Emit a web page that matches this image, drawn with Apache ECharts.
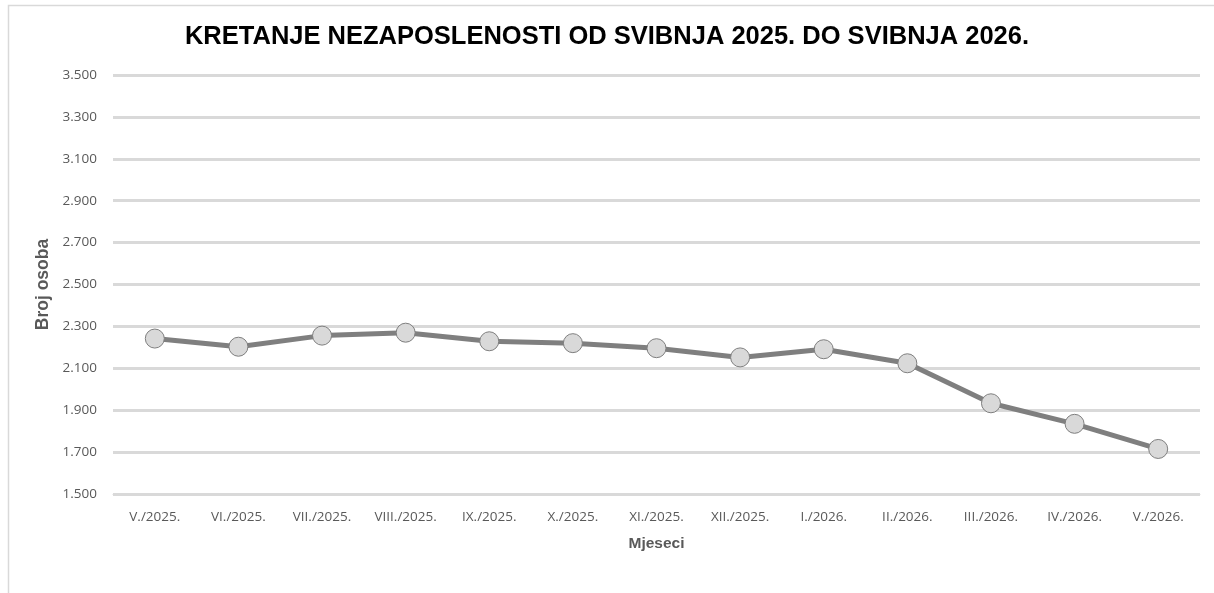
<!DOCTYPE html>
<html>
<head>
<meta charset="utf-8">
<script src="https://cdn.jsdelivr.net/npm/echarts@6/dist/echarts.min.js"></script>
<style>
html,body{margin:0;padding:0;background:#fff;}
#c{width:1214px;height:593px;}
</style>
</head>
<body>
<div id="c"></div>
<script>
const titleText = 'KRETANJE NEZAPOSLENOSTI OD SVIBNJA 2025. DO SVIBNJA 2026.';
const categories = ['V./2025.','VI./2025.','VII./2025.','VIII./2025.','IX./2025.','X./2025.','XI./2025.','XII./2025.','I./2026.','II./2026.','III./2026.','IV./2026.','V./2026.'];
const unemployed = [2242, 2203, 2256, 2270, 2229, 2220, 2196, 2152, 2191, 2124, 1933, 1835, 1715];
const yName = 'Broj osoba';
const xName = 'Mjeseci';

const chart = echarts.init(document.getElementById('c'), null, {renderer:'canvas'});
const fmt = v => String(v).replace(/\B(?=(\d{3})+(?!\d))/g, '.');
chart.setOption({
  animation:false,
  backgroundColor:'#fff',
  graphic:[{type:'rect', shape:{x:8.5,y:5.5,width:1220,height:620}, style:{fill:'none',stroke:'#d9d9d9',lineWidth:1.5}, silent:true}],
  title:{text:titleText,left:'center',top:19,textStyle:{fontFamily:'Liberation Sans',fontWeight:'bold',fontSize:25.5,color:'#000'}},
  grid:{left:113,right:14,top:75,bottom:99,containLabel:false},
  xAxis:{type:'category',data:categories,boundaryGap:true,
    name:xName,nameLocation:'middle',nameGap:42,
    nameTextStyle:{fontFamily:'Liberation Sans',fontWeight:'bold',fontSize:15.5,color:'#595959'},
    axisLine:{show:true,lineStyle:{color:'#d9d9d9',width:1}},
    axisTick:{show:false},
    axisLabel:{margin:16,fontFamily:'Open Sans',fontSize:13.5,color:'#595959',interval:0}},
  yAxis:{type:'value',min:1500,max:3500,interval:200,
    name:yName,nameLocation:'middle',nameGap:59,nameRotate:90,
    nameTextStyle:{fontFamily:'Liberation Sans',fontWeight:'bold',fontSize:17.5,color:'#595959'},
    axisLine:{show:false},axisTick:{show:false},
    axisLabel:{margin:16,fontFamily:'Open Sans',fontSize:13.5,color:'#595959',formatter:fmt},
    splitLine:{show:true,lineStyle:{color:'#d9d9d9',width:3}}},
  series:[{type:'line',data:unemployed,
    lineStyle:{color:'#7f7f7f',width:5},
    symbol:'circle',symbolSize:19,
    itemStyle:{color:'#d9d9d9',borderColor:'#7f7f7f',borderWidth:1},
    z:3}]
});
</script>
</body>
</html>
